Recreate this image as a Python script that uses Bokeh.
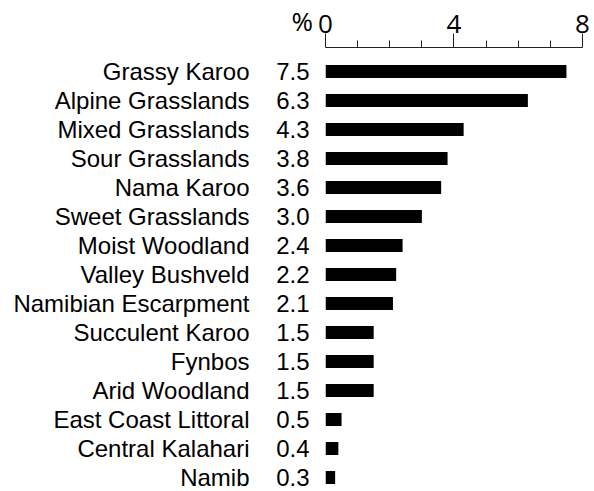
from bokeh.plotting import figure
from bokeh.models import Range1d, FixedTicker, LinearAxis, ColumnDataSource
from bokeh.embed import file_html
from bokeh.resources import INLINE

categories = ["Grassy Karoo", "Alpine Grasslands", "Mixed Grasslands", "Sour Grasslands",
              "Nama Karoo", "Sweet Grasslands", "Moist Woodland", "Valley Bushveld",
              "Namibian Escarpment", "Succulent Karoo", "Fynbos", "Arid Woodland",
              "East Coast Littoral", "Central Kalahari", "Namib"]
values = [7.5, 6.3, 4.3, 3.8, 3.6, 3.0, 2.4, 2.2, 2.1, 1.5, 1.5, 1.5, 0.5, 0.4, 0.3]
x_ticks = [0, 4, 8]
x_minor_ticks = [1, 2, 3, 5, 6, 7]
unit_label = "%"

rows = list(range(len(categories)))
src = ColumnDataSource(dict(row=rows, value=values, cat=categories))

W, H = 594, 491
p = figure(width=W, height=H, output_backend="svg", toolbar_location=None,
           x_axis_location="above",
           x_range=Range1d(0, 8.374), y_range=Range1d(14.483, -0.8276),
           min_border_left=325, min_border_top=47, min_border_right=0, min_border_bottom=0)
p.outline_line_color = None
p.xgrid.visible = False
p.ygrid.visible = False
p.background_fill_color = "white"

p.hbar(y="row", right="value", left=0, height=0.45, source=src,
       fill_color="black", line_color=None)

tick_font = "Open Sans"
label_font = "Liberation Sans"

xa = p.xaxis[0]
xa.ticker = FixedTicker(ticks=x_ticks, minor_ticks=x_minor_ticks)
xa.bounds = (0, 8)
xa.major_tick_out = 14
xa.major_tick_in = 0
xa.minor_tick_out = 7
xa.minor_tick_in = 0
xa.axis_line_color = "#222222"
xa.major_tick_line_color = "#222222"
xa.minor_tick_line_color = "#222222"
xa.major_label_text_font = tick_font
xa.major_label_text_font_size = "26px"
xa.major_label_text_color = "black"
xa.major_label_standoff = 1

ya = p.yaxis[0]
ya.ticker = FixedTicker(ticks=rows)
ya.major_label_overrides = {i: f"{v:.1f}" for i, v in zip(rows, values)}
ya.axis_line_color = None
ya.major_tick_line_color = None
ya.minor_tick_line_color = None
ya.major_tick_out = 0
ya.major_label_standoff = 16
ya.major_label_text_font = label_font
ya.major_label_text_font_size = "24px"
ya.major_label_text_color = "black"

na = LinearAxis(ticker=FixedTicker(ticks=rows))
na.major_label_overrides = {i: c for i, c in zip(rows, categories)}
na.axis_line_color = None
na.major_tick_line_color = None
na.minor_tick_line_color = None
na.major_tick_out = 0
na.major_label_standoff = 24
na.major_label_text_font = label_font
na.major_label_text_font_size = "24px"
na.major_label_text_color = "black"
p.add_layout(na, "left")

# unit label "%" in line with the top tick labels
p.title.text = unit_label
p.title.align = "left"
p.title.offset = -34
p.title.standoff = -55
p.title.text_font = tick_font
p.title.text_font_size = "26px"
p.title.text_font_style = "normal"
p.title.text_color = "black"

open("out.html", "w").write(file_html(p, INLINE))
